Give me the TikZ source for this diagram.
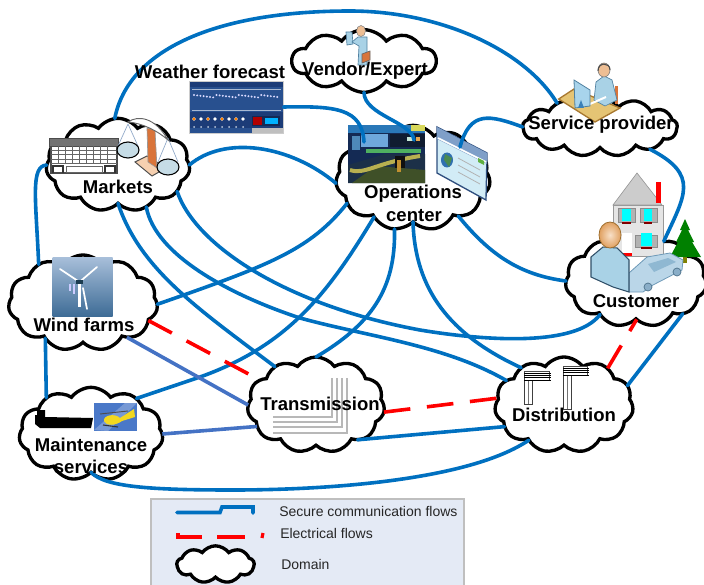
\documentclass[tikz,border=0pt]{standalone}
\usepackage{fontspec}
\setmainfont{Liberation Sans}
\usetikzlibrary{shapes.symbols}
\definecolor{flow}{HTML}{0070C0}
\definecolor{flowB}{HTML}{4472C4}
\definecolor{legbg}{HTML}{E4EAF5}
\definecolor{skin}{HTML}{EDBE94}
\definecolor{suit}{HTML}{A9D2E6}
\definecolor{pureCyan}{HTML}{00FFFF}
\definecolor{wxblue}{HTML}{28508F}
\definecolor{wxdark}{HTML}{1C3C78}
\definecolor{deskc}{HTML}{E5C474}
\definecolor{carc}{HTML}{BAD6E8}
\definecolor{orangec}{HTML}{D9743A}
\definecolor{treec}{HTML}{008000}
\definecolor{winedge}{HTML}{2F4F7F}
\definecolor{suitedge}{HTML}{5080A0}
\definecolor{deskedge}{HTML}{A87830}
\definecolor{helibg}{HTML}{4A78C8}
\definecolor{windtop}{HTML}{A8BFDA}
\definecolor{windbot}{HTML}{3E6C96}
\definecolor{caredge}{HTML}{6F9AB8}
\definecolor{wheeledge}{HTML}{4A6F88}
\definecolor{persedge}{HTML}{2F4F68}
\definecolor{headin}{HTML}{F8E0C8}
\definecolor{headout}{HTML}{E0A060}
\tikzset{
  HTML/.code={\definecolor{hxc}{HTML}{#1}\tikzset{color=hxc}},
  domain/.style={shape=cloud,cloud puffs=#1,cloud puff arc=108,cloud ignores aspect,draw=black,fill=white,line width=2.5pt,inner sep=0pt,outer sep=0pt},
  domain/.default=11,
  lab/.style={font=\fontsize{13.9}{16}\selectfont\bfseries,text=black,inner sep=0pt,align=center},
  legtext/.style={font=\fontsize{10.5}{12}\selectfont,text=black!85,inner sep=0pt,anchor=west},
  comm/.style={draw=flow,line width=2.7pt,line cap=round},
  commB/.style={draw=flowB,line width=2.7pt},
  elec/.style={draw=red,line width=2.7pt,dash pattern=on 20pt off 12.5pt},
  pic/.style={inner sep=0pt,outer sep=0pt,minimum width=#1}
}
\begin{document}
\begin{tikzpicture}[x=0.75pt,y=-0.75pt]
\useasboundingbox (0,0) rectangle (704,585);
% legend panel
\fill[legbg,draw=black!25,line width=1pt] (151,499) rectangle (464,592);
% domains
\node[domain=11,minimum width=108pt,minimum height=70pt] (mk) at (118,165) {};
\node[domain=10,minimum width=108pt,minimum height=47pt] (ven) at (364,61) {};
\node[domain=13,minimum width=116pt,minimum height=44pt] (sp) at (600,127) {};
\node[domain=11,minimum width=116pt,minimum height=79pt] (ops) at (413,178) {};
\node[domain=11,minimum width=106pt,minimum height=69pt] (cu) at (636,281) {};
\node[domain=11,minimum width=112pt,minimum height=72pt] (wf) at (83,303) {};
\node[domain=11,minimum width=108pt,minimum height=70pt] (mn) at (91,434) {};
\node[domain=11,minimum width=103pt,minimum height=72pt] (tr) at (316,405) {};
\node[domain=11,minimum width=104pt,minimum height=72pt] (dt) at (564,405) {};
\node[domain=9,minimum width=58pt,minimum height=28pt] (lc) at (215.5,564.5) {};
% weather picture
\node[pic=70.5pt,minimum height=39pt,fill=wxblue,draw=black!20,line width=.4pt] (wx) at (236.5,107) {};
\fill[fill=wxdark] (190,82) rectangle (283,87);
\fill[fill=wxdark] (190,112) rectangle (283,128);
\draw[white!60!wxblue,line width=.3pt] (192,89) -- (281,89) (192,110) -- (281,110);
\foreach \i in {0,...,26}{\fill[white!85!blue] ({194+\i*3.2},{95+mod(\i,7)*0.4}) circle (1.1);}
\foreach \i in {0,...,7}{\fill[white] ({194+\i*7},119) circle (1.8);\fill[white!70!wxblue] ({194+\i*7},127) circle (1);}
\foreach \i in {0,2,4,6}{\fill[orange] ({194+\i*7},119) circle (1.7);}
\fill[wxdark!70!black] (252,116) rectangle (280,126);
\fill[red!70!black] (253,117) rectangle (262,125);
\fill[pureCyan!70!blue] (265,118) rectangle (278,124);
\fill[black!25] (252,128) rectangle (283,133);
% operations photo
\node[pic=57.75pt,minimum height=43.5pt,fill=wxdark!70!black] (photo) at (386.5,154) {};
\fill[HTML=2A78B8] (348,125) rectangle (425,133);
\fill[HTML=D8D85A] (411,125) rectangle (425,131);
\fill[HTML=6FA8DC] (361,134) rectangle (388,147);
\fill[HTML=4E88B8] (352,136) rectangle (360,150);
\fill[HTML=101C30] (390,134) rectangle (425,147);
\fill[HTML=C8E8D8] (407,137) rectangle (414,141);
\fill[HTML=E8A850] (416,137) rectangle (420,141);
\fill[HTML=4FB060] (366,149) rectangle (421,153);
\fill[HTML=1C3048] (348,183) -- (348,165) -- (385,154) -- (425,154) -- (425,183) -- cycle;
\fill[HTML=3F5028] (352,183) -- (376,166) -- (425,170) -- (425,183) -- cycle;
\draw[HTML=B8B050,line width=3pt] (350,170) .. controls (365,175) and (375,163) .. (420,156);
\fill[HTML=101010] (395,156) rectangle (405,168);
\fill[HTML=C09030] (397,160) rectangle (401,172);
% window icon
\node[inner sep=0pt,minimum size=0pt] (win) at (461,147) {};
\fill[HTML=D2ECF6,draw=winedge,line width=1pt] (437,127) -- (487,153) -- (486,200) -- (437,173) -- cycle;
\fill[HTML=7F9FC8] (437,127) -- (487,153) -- (487,164) -- (437,139) -- cycle;
\draw[white,line width=1.2pt] (438,138) -- (486,162);
\fill[HTML=5FB040] (478,158) -- (484,161) -- (484,165) -- (478,162) -- cycle;
\fill[HTML=3070B0] (447,160) ellipse (6 and 7.5);
\fill[HTML=4A8A50] (445,154) -- (452,158) -- (449,167) -- (444,160) -- cycle;
\foreach \d in {0,7,14}{\draw[black!30,line width=.6pt] (458,{158+\d}) -- (480,{170+\d});}
% wind picture
\node[pic=45pt,minimum height=44.25pt,top color=windtop,bottom color=windbot] (wind) at (82.5,286.5) {};
\foreach \x/\s in {70/.35,74/.5}{\draw[white!80!blue,line width=.8pt] (\x,284) -- (\x,{284+20*\s});}
\fill[white] (78,282) rectangle (81,307);
\draw[white,line width=1.3pt,line cap=round] (79.5,282) -- (60,269);
\draw[white,line width=1.3pt,line cap=round] (79.5,282) -- (97,267);
\draw[white,line width=1.3pt,line cap=round] (83,288) -- (87,309);
\fill[HTML=1C3C50] (76,280) rectangle (83,284);
% ship + helicopter
\fill[black] (35,415) -- (37,415) -- (37,410) -- (45,410) -- (45,417) -- (93,418) -- (91,428) -- (40,428) -- (35,424) -- cycle;
\node[pic=32.25pt,minimum height=21pt,fill=helibg] (heli) at (115.5,417) {};
\fill[white,opacity=.25] (94,430) -- (125,403) -- (137,403) -- (108,431) -- cycle;
\fill[HTML=F2D820] (104,421) .. controls (103,415) and (115,413) .. (120,418) -- (134,409) -- (135,417) -- (122,421) .. controls (115,426) and (106,426) .. (104,421) -- cycle;
\draw[black!70,line width=.7pt] (100,414) -- (128,411);
\draw[black!80,line width=.8pt] (103,425) -- (118,427);
% building
\fill[white,draw=black!70,line width=.8pt] (51,146) rectangle (117,173);
\fill[black!55,draw=black!70,line width=.6pt] (49,138) rectangle (118,146);
\foreach \y in {150,154.5,159}{\draw[black!60,line width=.7pt] (51,\y) -- (117,\y);}
\draw[black!60,line width=.7pt] (51,163.5) -- (117,163.5);
\foreach \x in {58,65,72,79,86,93,100,107}{\draw[black!60,line width=.6pt] (\x,146) -- (\x,163.5);}
\draw[black!80,line width=.8pt] (53,173) -- (53,166) -- (63,166) -- (63,173);
\draw[black!80,line width=.8pt] (105,173) -- (105,166) -- (115,166) -- (115,173);
\draw[black!60,line width=.6pt] (66,166) rectangle (102,172);
% scales
\draw[HTML=8FA8C8,line width=.5pt] (128,124) -- (118,146) (128,124) -- (138,146);
\draw[HTML=8FA8C8,line width=.5pt] (168,138) -- (158,162) (168,138) -- (178,162);
\fill[HTML=F6D0B0,draw=black!70,line width=.7pt] (135,162) -- (147,156) -- (166,168) -- (152,176) -- cycle;
\fill[orangec,draw=black!40,line width=.5pt] (147,128) -- (155,130) -- (157,168) -- (148,162) -- cycle;
\fill[white,draw=black!60,line width=.7pt] (128,122) .. controls (138,115) and (155,117) .. (168,140) .. controls (158,131) and (142,123) .. (128,122) -- cycle;
\fill[HTML=C6DCE6,draw=black,line width=.8pt] (128,150) ellipse (11 and 8);
\fill[HTML=C6DCE6,draw=black,line width=.8pt] (168,167) ellipse (11 and 8);
% vendor person
\fill[suit,draw=suitedge,line width=.5pt] (346,32) -- (352,32) -- (353,44) -- (347,45) -- cycle;
\fill[suit,draw=suitedge,line width=.5pt] (352,42) -- (358,37) -- (367,37) -- (367,65) -- (358,65) -- (359,46) -- cycle;
\fill[skin,draw=black!50,line width=.4pt] (361,31) ellipse (4.5 and 5.5);
\fill[orangec,draw=black!60,line width=.5pt] (362,54) -- (370,51) -- (370,60) -- (362,63) -- cycle;
% service provider desk
\fill[deskc,draw=deskedge,line width=1pt] (558.7,99) -- (574,89) -- (620,108) -- (595,122) -- cycle;
\fill[orangec] (615,86) rectangle (618,104);
\fill[suit,draw=suitedge,line width=.5pt] (594,100) -- (596,82) -- (604,76) -- (612,80) -- (617,100) -- (605,106) -- cycle;
\fill[skin,draw=black!50,line width=.5pt] (604,70) ellipse (6 and 7);
\draw[black!70,line width=.8pt] (598,71) .. controls (598,62) and (610,62) .. (610,70);
\draw[white,line width=1.5pt] (590,104) -- (606,97);
\fill[HTML=A8D4EC,draw=suitedge,line width=.6pt] (574,80) -- (590,90) -- (590,106) -- (575,108) -- cycle;
\fill[HTML=3A80B8] (578,108) -- (581,100) -- (584,108) -- cycle;
% customer: house, tree, person, car
\fill[black!20,draw=black!40,line width=.5pt] (637,173) -- (662,205) -- (613,205) -- cycle;
\fill[red] (656,182) rectangle (661,203);
\fill[black!10,draw=black!40,line width=.5pt] (613,205) rectangle (663,256);
\foreach \a/\b/\c/\d in {618/635/622/631,640/657/644/652}{
  \fill[black!30,draw=black!45,line width=.4pt] (\a,208) rectangle (\b,222);
  \fill[pureCyan] (\c,209) rectangle (\d,221);
  \fill[HTML=800000] (\c,222) rectangle (\d,224);}
\fill[black!30,draw=black!45,line width=.4pt] (635,235) rectangle (657,247);
\fill[pureCyan] (641,233) rectangle (652,246);
\fill[HTML=800000] (641,247) rectangle (652,249);
\fill[white] (622,233) rectangle (632,253);
\fill[red] (622,253) rectangle (632,256);
\fill[HTML=808000] (683,257) rectangle (687,263);
\fill[treec] (685,219) -- (690,230) -- (688,230) -- (694,242) -- (692,242) -- (701,257) -- (670,257) -- (678,242) -- (676,242) -- (682,230) -- (680,230) -- cycle;
\fill[carc,draw=caredge,line width=.6pt] (629,273) -- (647,257) -- (670,253) -- (683,260) -- (682,270) -- (653,285) -- (643,292) -- (629,292) -- cycle;
\fill[HTML=8FB8D2] (648,264) -- (668,258) -- (676,262) -- (654,272) -- cycle;
\fill[HTML=8AAEC8,draw=wheeledge,line width=.5pt] (648,287) circle (4);
\fill[HTML=8AAEC8,draw=wheeledge,line width=.5pt] (677,272) circle (4);
\fill[suit,draw=persedge,line width=.8pt] (591,257) -- (603,247) -- (617,248) -- (629,260) -- (629,292) -- (613,287) -- (591,277) -- cycle;
\shade[inner color=headin,outer color=headout] (610,235) ellipse (11 and 13);
\draw[HTML=A07030,line width=.6pt] (610,235) ellipse (11 and 13);
% transmission lines
\foreach \a/\b in {332/417,337/422,342/427,347/433}{\draw[black!28,line width=.8pt] (\a,378) -- (\a,\b) -- (273,\b);}
% distribution poles
\foreach \x/\t/\b/\e in {524/371/404/551,563/366/409/589}{
  \fill[white,draw=black!75,line width=.6pt] (\x,\t) rectangle ({\x+8},\b);
  \draw[black!55,line width=.5pt] ({\x+4},{\t+3}) -- ({\x+4},\b);
  \fill[white,draw=black!70,line width=.5pt] (\x,\t) rectangle ({\e-2},{\t+9});
  \foreach \d in {2.2,4.4,6.6,9}{\draw[black,line width=.7pt] (\x,{\t+\d}) -- (\e,{\t+\d});}
}
% free ends on the pictures
\coordinate (opsA) at (364,142);
\coordinate (opsB) at (414,140);
\coordinate (winA) at (460,147);
% communication flows
\draw[comm] (mk.94) .. controls (128,50) and (215,11) .. (350,11) .. controls (440,11) and (525,50) .. (sp.151);
\draw[comm] (wx.east) .. controls (335,106) and (362,108) .. (opsA);
\draw[comm] (ven.-90) .. controls (364,115) and (412,122) .. (opsB);
\draw[comm] (sp.180) .. controls (490,115) and (470,110) .. (winA);
\draw[comm] (sp.-24) .. controls (700,175) and (685,195) .. (cu.55);
\draw[comm] (ops.-40) .. controls (490,255) and (520,275) .. (cu.180);
\draw[comm] (mk.0) .. controls (225,135) and (290,145) .. (ops.184);
\draw[comm] (mk.180) .. controls (30,166) and (36,200) .. (wf.139.5);
\draw[comm] (wf.223) -- (mn.141);
\draw[comm] (mk.-24) .. controls (195,245) and (285,305) .. (420,330) .. controls (480,340) and (575,348) .. (cu.223);
\draw[comm] (mk.-56) .. controls (155,255) and (230,295) .. (300,318) .. controls (365,336) and (445,345) .. (dt.157);
\draw[comm] (mk.-90) .. controls (140,270) and (200,310) .. (tr.137);
\draw[comm] (ops.201.6) .. controls (310,250) and (270,265) .. (wf.-1);
\draw[comm] (ops.225.6) .. controls (330,290) and (290,345) .. (200,377) -- (mn.38);
\draw[comm] (ops.250) .. controls (396,290) and (370,325) .. (tr.90);
\draw[comm] (ops.-90) .. controls (415,290) and (450,335) .. (dt.139);
\draw[commB] (wf.-38) -- (tr.180);
\draw[commB] (mn.0) -- (tr.200);
\draw[comm] (tr.-40) -- (dt.200);
\draw[comm] (mn.-90) .. controls (105,487) and (150,490) .. (233,490) .. controls (330,490) and (470,480) .. (dt.225);
\draw[comm] (dt.17) -- (cu.-35);
% electrical flows
\draw[elec] (wf.-15.5) -- (tr.156);
\draw[elec] (tr.-6) -- (dt.174);
\draw[elec] (dt.40) -- (cu.-89);
% labels
\node[lab] (lwx) at (210,72) {Weather forecast};
\node[lab] (lven) at (365,71) {Vendor/Expert};
\node[lab] (lsp) at (601,125) {Service provider};
\node[lab] (lmk) at (118,187) {Markets};
\node[lab] (lops) at (413,194) {Operations};
\node[lab] (lops2) at (414,216) {center};
\node[lab] (lcu) at (636,301) {Customer};
\node[lab] (lwf) at (84,325) {Wind farms};
\node[lab] (ltr) at (320,404) {Transmission};
\node[lab] (lmn) at (91,445) {Maintenance};
\node[lab] (lmn2) at (91,467) {services};
\node[lab] (ldt) at (564,415) {Distribution};
% legend
\coordinate (la) at (177,512.5);
\coordinate (lb) at (220,512.5);
\coordinate (lc1) at (222,507);
\coordinate (ld) at (253,507);
\coordinate (le) at (253,513);
\draw[comm] (la) -- (lb) -- (lc1) -- (ld) -- (le);
\coordinate (ra) at (178,533);
\coordinate (rb) at (178,537);
\coordinate (rc) at (202,537);
\coordinate (rd) at (217,537);
\coordinate (re) at (245,537);
\coordinate (rf) at (262,538);
\coordinate (rg) at (263,533);
\draw[draw=red,line width=2.4pt] (ra) -- (rb) -- (rc);
\draw[draw=red,line width=2.4pt] (rd) -- (re);
\draw[draw=red,line width=2.4pt] (rf) -- (rg);
\node[legtext] (t1) at (279,511) {Secure communication flows};
\node[legtext] (t2) at (280,533) {Electrical flows};
\node[legtext] (t3) at (281,564) {Domain};
\end{tikzpicture}
\end{document}
